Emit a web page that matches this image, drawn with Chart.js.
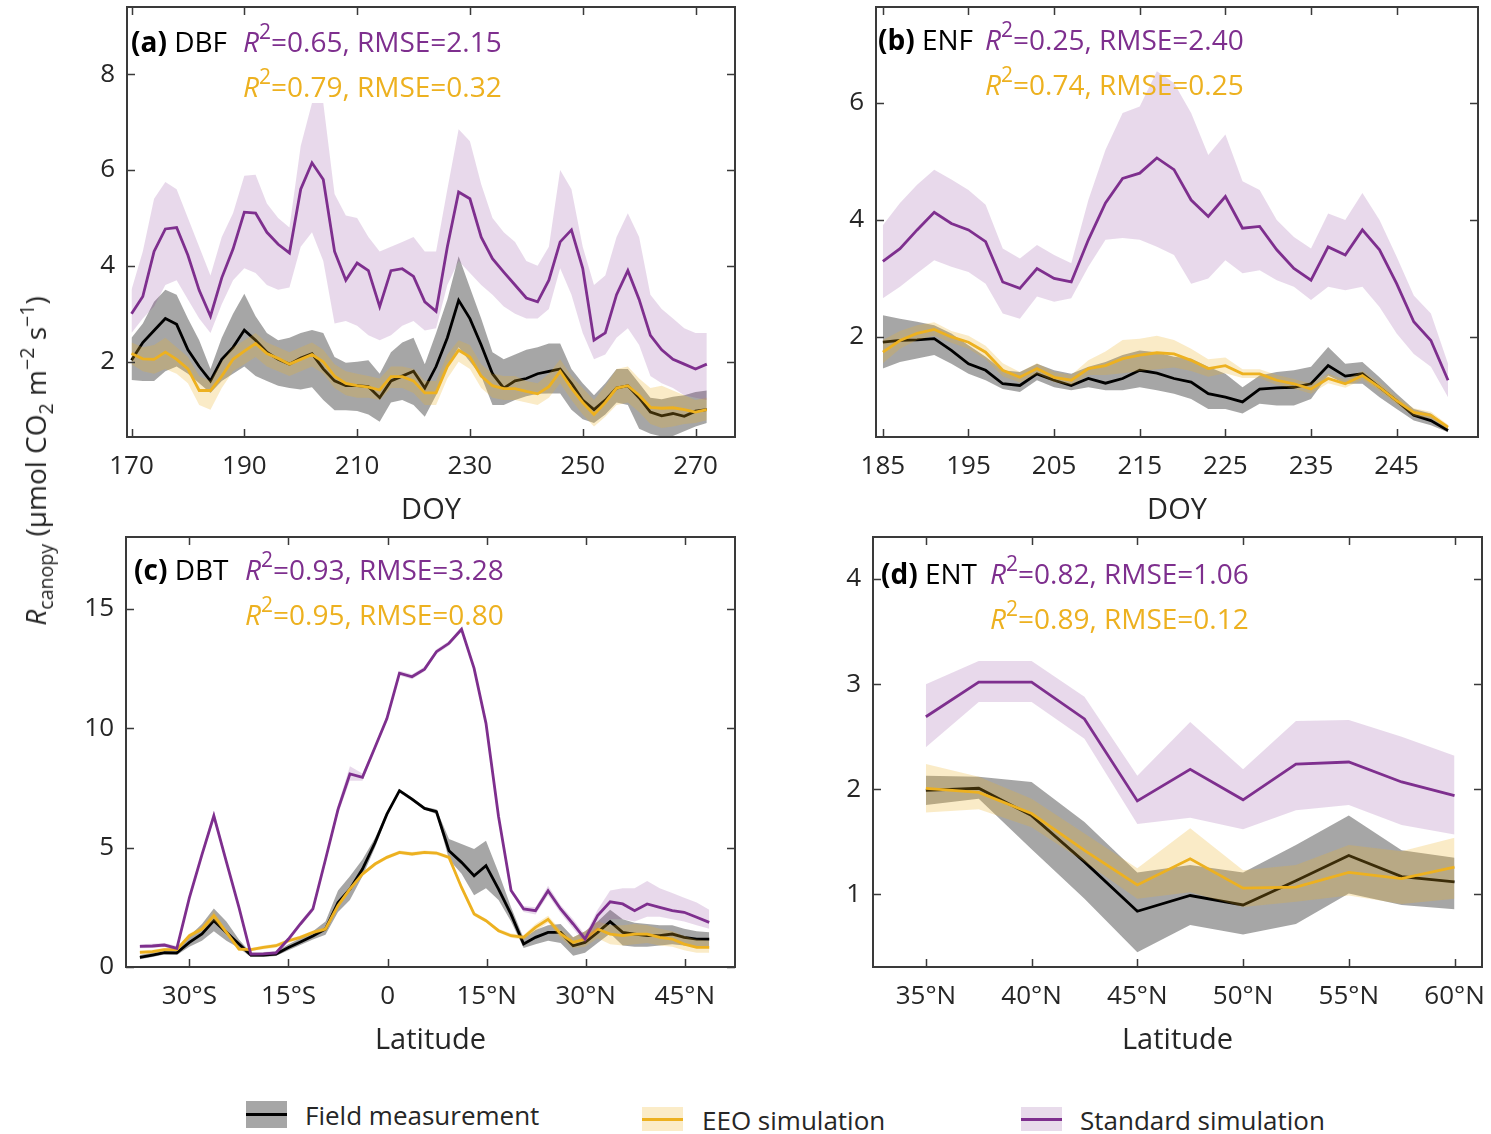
<!DOCTYPE html>
<html>
<head>
<meta charset="utf-8">
<script src="https://cdn.jsdelivr.net/npm/chart.js@4.4.0/dist/chart.umd.min.js"></script>
<style>
  body { margin: 0; background: #fff; font-family: "Open Sans", sans-serif; }
  #wrap { position: relative; width: 1491px; height: 1134px; overflow: hidden; }
  canvas { position: absolute; }
  .lab, .st { position: absolute; font-size: 28px; line-height: 45px; white-space: nowrap; color: #000; }
  .p { color: #7E2F8E; }
  .o { color: #EDB120; }
  sup { font-size: 0.75em; vertical-align: 0.62em; line-height: 0; }
  sub { font-size: 0.7em; vertical-align: -0.35em; line-height: 0; }
  #ylab { position: absolute; left: 35px; top: 461px; transform: translate(-50%, -50%) rotate(-90deg);
          font-size: 28px; white-space: nowrap; color: #262626; }
  #ylab sup { font-size: 0.7em; }
  .key { position: absolute; width: 41px; }
  .key span { position: absolute; left: 0; right: 0; top: 50%; height: 3px; margin-top: -1.5px; }
  .ktxt { position: absolute; font-size: 26px; line-height: 30px; white-space: nowrap; color: #262626; }
</style>
</head>
<body>
<div id="wrap">
  <canvas id="ca" width="760" height="530" style="left:0;top:0"></canvas>
  <canvas id="cb" width="731" height="530" style="left:760px;top:0"></canvas>
  <canvas id="cc" width="760" height="530" style="left:0;top:530px"></canvas>
  <canvas id="cd" width="731" height="530" style="left:760px;top:530px"></canvas>

  <div class="lab" style="left:131px;top:19px"><b>(a)</b> DBF</div>
  <div class="st" style="left:243px;top:19px"><div class="p"><i>R</i><sup>2</sup>=0.65, RMSE=2.15</div><div class="o"><i>R</i><sup>2</sup>=0.79, RMSE=0.32</div></div>

  <div class="lab" style="left:878px;top:17px"><b>(b)</b> ENF</div>
  <div class="st" style="left:985px;top:17px"><div class="p"><i>R</i><sup>2</sup>=0.25, RMSE=2.40</div><div class="o"><i>R</i><sup>2</sup>=0.74, RMSE=0.25</div></div>

  <div class="lab" style="left:134px;top:547px"><b>(c)</b> DBT</div>
  <div class="st" style="left:245px;top:547px"><div class="p"><i>R</i><sup>2</sup>=0.93, RMSE=3.28</div><div class="o"><i>R</i><sup>2</sup>=0.95, RMSE=0.80</div></div>

  <div class="lab" style="left:881px;top:551px"><b>(d)</b> ENT</div>
  <div class="st" style="left:990px;top:551px"><div class="p"><i>R</i><sup>2</sup>=0.82, RMSE=1.06</div><div class="o"><i>R</i><sup>2</sup>=0.89, RMSE=0.12</div></div>

  <div id="ylab"><i>R</i><sub>canopy</sub> (μmol CO<sub>2</sub> m<sup>−2</sup> s<sup>−1</sup>)</div>

  <div class="key" style="left:246px;top:1101px;height:27px;background:#a6a6a6"><span style="background:#000"></span></div>
  <div class="ktxt" style="left:305px;top:1100px">Field measurement</div>
  <div class="key" style="left:642px;top:1107px;height:24px;background:#fbecc8"><span style="background:#EDB120"></span></div>
  <div class="ktxt" style="left:702px;top:1105px">EEO simulation</div>
  <div class="key" style="left:1021px;top:1107px;height:24px;background:#e8dbeb"><span style="background:#7E2F8E"></span></div>
  <div class="ktxt" style="left:1080px;top:1105px">Standard simulation</div>
</div>

<script>
// ---- (a) DBF, by DOY
const DOY_A = [170,172,174,176,178,180,182,184,186,188,190,192,194,196,198,200,202,204,206,208,210,212,214,216,218,220,222,224,226,228,230,232,234,236,238,240,242,244,246,248,250,252,254,256,258,260,262,264,266,268,270,272];
const stdA   = [3.0,3.36,4.3,4.77,4.8,4.22,3.49,2.95,3.75,4.35,5.12,5.1,4.7,4.45,4.27,5.6,6.15,5.8,4.3,3.7,4.06,3.9,3.15,3.9,3.94,3.78,3.25,3.05,4.4,5.54,5.4,4.6,4.15,3.87,3.6,3.33,3.25,3.7,4.5,4.75,3.95,2.45,2.6,3.4,3.9,3.3,2.55,2.25,2.05,1.95,1.85,1.95];
const stdHiA = [3.5,4.3,5.4,5.75,5.6,5.0,4.4,3.8,4.6,5.1,5.88,5.9,5.3,5.0,4.8,6.5,7.4,7.4,5.5,5.05,5.0,4.6,4.3,4.4,4.5,4.6,4.3,4.3,5.6,6.85,6.6,5.7,5.0,4.7,4.5,4.1,4.0,4.4,6.0,5.6,4.4,3.6,3.8,4.6,5.1,4.6,3.4,3.1,2.9,2.7,2.6,2.6];
const stdLoA = [2.6,2.9,3.15,3.6,3.7,3.3,2.9,2.6,3.2,3.7,3.95,3.85,3.6,3.5,3.55,4.4,4.7,4.1,2.8,2.85,2.75,2.55,2.45,2.55,2.75,2.85,2.65,2.7,3.6,4.1,3.85,3.6,3.4,3.15,3.0,2.9,2.9,3.1,3.95,3.4,2.6,2.05,2.15,2.5,2.7,2.35,1.7,1.55,1.45,1.3,1.25,1.2];
const obsA   = [2.03,2.4,2.65,2.9,2.78,2.25,1.9,1.6,2.05,2.3,2.66,2.45,2.2,2.05,1.95,2.08,2.17,1.85,1.6,1.5,1.5,1.48,1.25,1.6,1.7,1.8,1.45,1.9,2.5,3.28,2.9,2.35,1.75,1.45,1.6,1.65,1.75,1.8,1.85,1.55,1.2,1.0,1.2,1.45,1.5,1.25,0.95,0.87,0.92,0.86,0.97,1.0];
const obsHiA = [2.5,2.8,3.25,3.5,3.4,2.9,2.45,1.85,2.5,3.0,3.42,2.95,2.6,2.45,2.5,2.6,2.66,2.6,2.1,1.98,2.0,2.03,1.75,2.2,2.4,2.5,1.95,2.6,3.3,4.2,3.55,2.9,2.2,2.05,2.15,2.25,2.3,2.38,2.38,1.85,1.55,1.3,1.55,1.85,1.85,1.55,1.25,1.22,1.27,1.3,1.37,1.4];
const obsLoA = [1.62,1.6,1.6,1.8,1.9,1.75,1.55,1.35,1.6,1.75,1.9,1.7,1.6,1.5,1.45,1.42,1.47,1.2,0.99,0.99,0.97,0.9,0.75,1.15,1.2,1.1,0.85,1.3,1.9,2.3,2.0,1.7,1.1,1.1,1.2,1.28,1.33,1.34,1.34,1.0,0.8,0.72,0.9,1.15,1.1,0.6,0.5,0.44,0.45,0.55,0.65,0.72];
const eeoA   = [2.17,2.06,2.05,2.2,2.05,1.85,1.4,1.4,1.7,2.05,2.22,2.38,2.17,2.07,1.95,2.05,2.15,2.0,1.7,1.55,1.5,1.47,1.41,1.69,1.69,1.6,1.35,1.35,1.9,2.24,2.1,1.7,1.5,1.44,1.44,1.38,1.33,1.48,1.8,1.45,1.15,0.9,1.15,1.45,1.5,1.3,1.05,1.03,1.04,1.0,0.95,1.0];
const eeoHiA = [2.4,2.3,2.35,2.5,2.3,2.1,1.7,1.6,2.0,2.3,2.45,2.6,2.4,2.3,2.2,2.3,2.4,2.25,1.95,1.8,1.75,1.7,1.65,1.9,1.9,1.85,1.6,1.6,2.15,2.45,2.35,1.95,1.75,1.7,1.7,1.6,1.55,1.75,2.05,1.7,1.45,1.2,1.5,1.85,1.9,1.65,1.45,1.5,1.4,1.3,1.2,1.25];
const eeoLoA = [1.95,1.8,1.75,1.85,1.75,1.55,1.1,1.0,1.45,1.8,1.95,2.1,1.9,1.8,1.7,1.8,1.9,1.75,1.45,1.3,1.25,1.25,1.2,1.45,1.45,1.35,1.1,1.1,1.65,2.0,1.85,1.45,1.25,1.2,1.2,1.15,1.1,1.25,1.55,1.2,0.9,0.65,0.85,1.1,1.15,0.95,0.7,0.62,0.65,0.7,0.72,0.78];

// ---- (b) ENF, by DOY
const DOY_B = [185,187,189,191,193,195,197,199,201,203,205,207,209,211,213,215,217,219,221,223,225,227,229,231,233,235,237,239,241,243,245,247,249,251];
const stdB   = [3.29,3.51,3.83,4.13,3.94,3.83,3.63,2.94,2.83,3.17,3.0,2.94,3.66,4.29,4.71,4.8,5.06,4.86,4.34,4.06,4.4,3.86,3.89,3.49,3.17,2.97,3.54,3.4,3.83,3.49,2.91,2.26,1.94,1.26];
const stdHiB = [3.91,4.29,4.6,4.86,4.69,4.51,4.26,3.51,3.34,3.57,3.4,3.26,4.34,5.2,5.83,5.94,6.54,6.34,5.83,5.11,5.46,4.66,4.51,4.0,3.71,3.51,4.11,4.0,4.46,4.0,3.37,2.71,2.4,1.54];
const stdLoB = [2.66,2.86,3.09,3.31,3.2,3.11,2.91,2.4,2.31,2.69,2.6,2.66,3.2,3.66,3.69,3.66,3.54,3.4,2.91,3.0,3.31,3.09,3.14,2.97,2.86,2.63,2.86,2.8,2.86,2.51,2.06,1.71,1.49,0.97];
const obsB   = [1.91,1.94,1.95,1.97,1.77,1.54,1.43,1.2,1.17,1.37,1.26,1.17,1.29,1.21,1.29,1.43,1.38,1.29,1.23,1.03,0.97,0.89,1.11,1.13,1.14,1.2,1.51,1.33,1.37,1.14,0.91,0.66,0.57,0.4];
const obsHiB = [2.37,2.31,2.26,2.2,2.06,1.86,1.66,1.43,1.4,1.54,1.43,1.37,1.49,1.57,1.69,1.77,1.74,1.66,1.63,1.49,1.37,1.14,1.34,1.4,1.43,1.49,1.83,1.54,1.57,1.31,1.03,0.77,0.69,0.46];
const obsLoB = [1.46,1.57,1.63,1.69,1.54,1.37,1.26,1.11,1.06,1.26,1.14,1.09,1.14,1.09,1.09,1.14,1.09,1.03,0.94,0.77,0.77,0.69,0.86,0.83,0.83,0.94,1.34,1.2,1.2,0.97,0.77,0.57,0.49,0.37];
const eeoB   = [1.74,1.94,2.06,2.13,2.0,1.91,1.74,1.43,1.31,1.46,1.31,1.26,1.46,1.51,1.63,1.69,1.73,1.71,1.6,1.46,1.51,1.37,1.37,1.26,1.2,1.11,1.29,1.2,1.34,1.14,0.91,0.71,0.66,0.46];
const eeoHiB = [1.95,2.1,2.2,2.25,2.1,2.02,1.85,1.55,1.4,1.55,1.4,1.35,1.6,1.75,1.95,1.97,2.02,1.95,1.8,1.62,1.65,1.45,1.45,1.35,1.28,1.2,1.37,1.27,1.42,1.22,0.98,0.78,0.72,0.5];
const eeoLoB = [1.55,1.8,1.95,2.02,1.9,1.8,1.62,1.33,1.22,1.37,1.23,1.18,1.35,1.35,1.38,1.42,1.45,1.48,1.42,1.32,1.38,1.3,1.3,1.18,1.12,1.03,1.21,1.13,1.27,1.07,0.85,0.65,0.6,0.42];

// ---- (c) DBT, by latitude (south negative)
const LAT_C = [-37.5,-35.6,-33.8,-31.9,-30.0,-28.1,-26.3,-24.4,-22.5,-20.7,-18.8,-16.9,-15.0,-13.2,-11.3,-9.4,-7.5,-5.7,-3.8,-1.9,-0.1,1.8,3.7,5.6,7.4,9.3,11.2,13.1,14.9,16.8,18.7,20.6,22.4,24.3,26.2,28.1,29.9,31.8,33.7,35.6,37.4,39.3,41.2,43.1,44.9,46.8,48.7];
const stdC   = [0.86,0.88,0.92,0.78,2.9,4.7,6.33,4.4,2.5,0.54,0.55,0.59,1.17,1.8,2.43,4.5,6.6,8.08,7.94,9.2,10.4,12.3,12.15,12.47,13.2,13.55,14.14,12.5,10.2,6.3,3.2,2.43,2.36,3.19,2.43,1.8,1.17,2.15,2.73,2.64,2.36,2.64,2.5,2.36,2.29,2.08,1.87];
const stdHiC = [0.95,0.97,1.0,0.88,3.0,4.8,6.55,4.5,2.6,0.62,0.63,0.68,1.27,1.9,2.55,4.6,6.8,8.4,8.1,9.3,10.5,12.4,12.25,12.57,13.3,13.65,14.24,12.6,10.3,6.4,3.3,2.55,2.5,3.4,2.6,2.0,1.35,2.4,3.2,3.3,3.3,3.6,3.3,3.1,2.9,2.7,2.4];
const stdLoC = [0.78,0.8,0.84,0.7,2.8,4.6,6.15,4.3,2.4,0.46,0.47,0.5,1.07,1.7,2.31,4.4,6.4,7.8,7.8,9.1,10.3,12.2,12.05,12.37,13.1,13.45,14.04,12.4,10.1,6.2,3.1,2.3,2.2,3.0,2.25,1.6,1.0,1.6,2.0,2.0,1.9,2.1,2.1,2.0,1.9,1.75,1.6];
const obsC   = [0.4,0.5,0.6,0.59,1.03,1.38,1.94,1.45,0.96,0.5,0.5,0.54,0.82,1.05,1.3,1.59,2.7,3.26,4.1,5.2,6.4,7.38,7.03,6.64,6.5,4.87,4.38,3.82,4.24,3.26,2.2,0.96,1.24,1.45,1.45,0.89,1.03,1.45,1.9,1.45,1.38,1.31,1.31,1.38,1.24,1.17,1.17];
const obsHiC = [0.5,0.6,0.7,0.7,1.3,1.8,2.45,1.9,1.15,0.6,0.6,0.65,0.95,1.2,1.5,1.9,3.2,3.8,4.5,5.4,6.5,7.45,7.1,6.7,6.6,5.36,5.15,4.94,5.29,3.96,2.5,1.2,1.55,1.75,1.8,1.25,1.5,1.9,2.4,2.0,1.85,1.8,1.75,1.75,1.6,1.5,1.45];
const obsLoC = [0.32,0.42,0.52,0.5,0.85,1.1,1.5,1.1,0.8,0.42,0.42,0.46,0.7,0.92,1.15,1.35,2.3,2.8,3.8,5.0,6.3,7.3,6.95,6.58,6.4,4.5,3.9,3.0,3.3,2.8,1.9,0.8,0.95,1.1,1.0,0.47,0.6,1.0,1.4,0.9,0.85,0.85,0.9,0.95,0.9,0.85,0.85];
const eeoC   = [0.61,0.64,0.73,0.73,1.31,1.59,2.15,1.45,0.75,0.73,0.82,0.89,1.1,1.24,1.45,1.59,2.57,3.26,3.89,4.31,4.59,4.8,4.73,4.8,4.77,4.59,3.33,2.22,1.94,1.52,1.31,1.24,1.66,2.0,1.38,1.03,1.17,1.59,1.38,1.31,1.38,1.38,1.24,1.17,0.96,0.82,0.82];
const eeoHiC = [0.7,0.72,0.8,0.8,1.4,1.7,2.35,1.55,0.83,0.8,0.9,0.97,1.18,1.32,1.53,1.67,2.65,3.34,3.97,4.39,4.67,4.88,4.81,4.88,4.85,4.67,3.41,2.3,2.02,1.6,1.4,1.34,1.8,2.15,1.55,1.25,1.5,1.9,1.75,1.75,1.8,1.75,1.6,1.5,1.3,1.15,1.1];
const eeoLoC = [0.53,0.56,0.66,0.66,1.22,1.5,1.95,1.35,0.67,0.66,0.74,0.81,1.02,1.16,1.37,1.51,2.49,3.18,3.81,4.23,4.51,4.72,4.65,4.72,4.69,4.51,3.25,2.14,1.86,1.44,1.22,1.14,1.5,1.85,1.2,0.8,0.85,1.2,0.95,0.9,0.95,1.0,0.9,0.85,0.7,0.6,0.6];

// ---- (d) ENT, by latitude
const LAT_D = [35,37.5,40,42.5,45,47.5,50,52.5,55,57.5,60];
const stdD   = [2.69,3.02,3.02,2.67,1.89,2.19,1.9,2.24,2.26,2.07,1.94];
const stdHiD = [3.0,3.22,3.22,2.88,2.13,2.64,2.19,2.65,2.66,2.5,2.32];
const stdLoD = [2.4,2.83,2.83,2.48,1.67,1.73,1.62,1.8,1.85,1.66,1.57];
const obsD   = [1.99,2.01,1.75,1.31,0.84,0.99,0.9,1.13,1.37,1.17,1.12];
const obsHiD = [2.13,2.12,2.07,1.69,1.21,1.28,1.21,1.47,1.75,1.42,1.35];
const obsLoD = [1.85,1.91,1.43,0.96,0.45,0.71,0.62,0.72,1.01,0.9,0.86];
const eeoD   = [2.01,1.97,1.77,1.42,1.09,1.34,1.06,1.07,1.21,1.15,1.26];
const eeoHiD = [2.24,2.12,1.91,1.58,1.25,1.63,1.23,1.28,1.47,1.41,1.54];
const eeoLoD = [1.78,1.81,1.64,1.31,0.96,1.02,0.88,0.93,0.99,0.91,0.96];

// ---- tick values / labels
const xTicksA = [170,190,210,230,250,270];
const yTicksA = [2,4,6,8];
const xTicksB = [185,195,205,215,225,235,245];
const yTicksB = [2,4,6];
const xTicksC = [-30,-15,0,15,30,45];
const xLabelsC = ['30°S','15°S','0','15°N','30°N','45°N'];
const yTicksC = [0,5,10,15];
const xTicksD = [35,40,45,50,55,60];
const xLabelsD = ['35°N','40°N','45°N','50°N','55°N','60°N'];
const yTicksD = [1,2,3,4];

const PURPLE = '#7E2F8E', ORANGE = '#EDB120', BLACK = '#000000';
const PURPLE_BAND = 'rgba(126,47,142,0.18)';
const ORANGE_BAND = 'rgba(237,177,32,0.25)';
const GRAY_BAND = 'rgba(0,0,0,0.35)';
const TXT = '#262626';

Chart.defaults.font.family = "'Open Sans', sans-serif";

function pts(xs, ys) { return xs.map((x, i) => ({x: x, y: ys[i]})); }

function lineDs(xs, ys, color) {
  return {data: pts(xs, ys), borderColor: color, borderWidth: 2.8, pointRadius: 0, fill: false};
}
function bandDs(xs, hi, lo, color) {
  return [
    {data: pts(xs, hi), borderWidth: 0, borderColor: 'rgba(0,0,0,0)', backgroundColor: color, pointRadius: 0, fill: '+1'},
    {data: pts(xs, lo), borderWidth: 0, borderColor: 'rgba(0,0,0,0)', pointRadius: 0, fill: false}
  ];
}

// frame + inward ticks on all four sides, like the matlab box
const boxPlugin = {
  id: 'box',
  afterDraw(chart) {
    const ctx = chart.ctx, a = chart.chartArea, sx = chart.scales.x, sy = chart.scales.y;
    ctx.save();
    ctx.strokeStyle = '#3a3a3a';
    ctx.lineWidth = 1.5;
    ctx.beginPath();
    sx.ticks.forEach(t => {
      const px = Math.round(sx.getPixelForValue(t.value)) + 0.5;
      ctx.moveTo(px, a.bottom); ctx.lineTo(px, a.bottom - 8);
      ctx.moveTo(px, a.top); ctx.lineTo(px, a.top + 8);
    });
    sy.ticks.forEach(t => {
      const py = Math.round(sy.getPixelForValue(t.value)) + 0.5;
      ctx.moveTo(a.left, py); ctx.lineTo(a.left + 8, py);
      ctx.moveTo(a.right, py); ctx.lineTo(a.right - 8, py);
    });
    ctx.stroke();
    ctx.lineWidth = 2;
    ctx.strokeRect(a.left, a.top, a.right - a.left, a.bottom - a.top);
    ctx.restore();
  }
};

function makePanel(id, p) {
  const datasets = [
    lineDs(p.xs, p.std, PURPLE), ...bandDs(p.xs, p.stdHi, p.stdLo, PURPLE_BAND),
    lineDs(p.xs, p.eeo, ORANGE), ...bandDs(p.xs, p.eeoHi, p.eeoLo, ORANGE_BAND),
    lineDs(p.xs, p.obs, BLACK), ...bandDs(p.xs, p.obsHi, p.obsLo, GRAY_BAND)
  ];
  new Chart(document.getElementById(id), {
    type: 'line',
    data: {datasets: datasets},
    options: {
      responsive: false,
      animation: false,
      events: [],
      layout: {padding: {top: 7, right: p.padRight, left: 0, bottom: 0}},
      plugins: {legend: {display: false}, tooltip: {enabled: false}},
      scales: {
        x: {
          type: 'linear', min: p.xMin, max: p.xMax,
          grid: {display: false, drawTicks: false}, border: {display: false},
          afterBuildTicks: s => { s.ticks = p.xTicks.map(v => ({value: v})); },
          afterFit: s => { s.height = p.xH; s.paddingLeft = 0; s.paddingRight = 0; },
          ticks: {
            font: {size: 26}, color: TXT, padding: 14, maxRotation: 0, autoSkip: false,
            callback: (v, i) => p.xLabels ? p.xLabels[i] : String(v)
          },
          title: {display: true, text: p.xTitle, font: {size: 29}, color: TXT, padding: {top: 4, bottom: 2}}
        },
        y: {
          type: 'linear', min: p.yMin, max: p.yMax,
          grid: {display: false, drawTicks: false}, border: {display: false},
          afterBuildTicks: s => { s.ticks = p.yTicks.map(v => ({value: v})); },
          afterFit: s => { s.width = p.yW; s.paddingTop = 0; s.paddingBottom = 0; },
          ticks: {font: {size: 26}, color: TXT, padding: 12, autoSkip: false}
        }
      }
    },
    plugins: [boxPlugin]
  });
}

makePanel('ca', {
  xs: DOY_A, std: stdA, stdHi: stdHiA, stdLo: stdLoA, obs: obsA, obsHi: obsHiA, obsLo: obsLoA,
  eeo: eeoA, eeoHi: eeoHiA, eeoLo: eeoLoA,
  xMin: 169.2, xMax: 277, yMin: 0.43, yMax: 9.4, xTicks: xTicksA, yTicks: yTicksA,
  xTitle: 'DOY', yW: 127, xH: 93, padRight: 25
});
makePanel('cb', {
  xs: DOY_B, std: stdB, stdHi: stdHiB, stdLo: stdLoB, obs: obsB, obsHi: obsHiB, obsLo: obsLoB,
  eeo: eeoB, eeoHi: eeoHiB, eeoLo: eeoLoB,
  xMin: 184.2, xMax: 254.5, yMin: 0.29, yMax: 7.64, xTicks: xTicksB, yTicks: yTicksB,
  xTitle: 'DOY', yW: 116, xH: 93, padRight: 13
});
makePanel('cc', {
  xs: LAT_C, std: stdC, stdHi: stdHiC, stdLo: stdLoC, obs: obsC, obsHi: obsHiC, obsLo: obsLoC,
  eeo: eeoC, eeoHi: eeoHiC, eeoLo: eeoLoC,
  xMin: -39.6, xMax: 52.6, yMin: 0, yMax: 18, xTicks: xTicksC, xLabels: xLabelsC, yTicks: yTicksC,
  xTitle: 'Latitude', yW: 126, xH: 93, padRight: 25
});
makePanel('cd', {
  xs: LAT_D, std: stdD, stdHi: stdHiD, stdLo: stdLoD, obs: obsD, obsHi: obsHiD, obsLo: obsLoD,
  eeo: eeoD, eeoHi: eeoHiD, eeoLo: eeoLoD,
  xMin: 32.5, xMax: 61.3, yMin: 0.31, yMax: 4.4, xTicks: xTicksD, xLabels: xLabelsD, yTicks: yTicksD,
  xTitle: 'Latitude', yW: 113, xH: 93, padRight: 9
});
</script>
</body>
</html>
